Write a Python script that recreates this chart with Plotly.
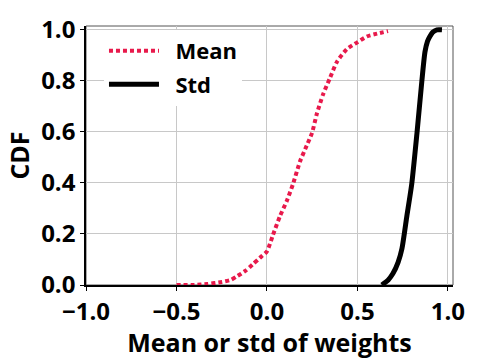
import plotly.graph_objects as go

# CDF of per-layer weight statistics
mean_x = [-0.50, -0.40, -0.33, -0.25, -0.20, -0.166, -0.12, -0.08, -0.04, 0.0, 0.033,
          0.072, 0.11, 0.144, 0.182, 0.22, 0.249, 0.276, 0.31, 0.348, 0.387, 0.442,
          0.497, 0.552, 0.608, 0.669]
mean_y = [0.0, 0.0, 0.004, 0.012, 0.02, 0.034, 0.055, 0.08, 0.106, 0.132, 0.196,
          0.27, 0.33, 0.396, 0.483, 0.547, 0.596, 0.672, 0.747, 0.811, 0.875, 0.925,
          0.95, 0.974, 0.985, 0.995]

std_x = [0.635, 0.67, 0.696, 0.725, 0.746, 0.773, 0.80, 0.829, 0.856, 0.873, 0.887,
         0.90, 0.915, 0.939, 0.967]
std_y = [0.0, 0.02, 0.045, 0.09, 0.143, 0.27, 0.396, 0.596, 0.80, 0.913, 0.955,
         0.974, 0.99, 1.0, 1.0]

font = "Open Sans"
pad = "\u00a0\u00a0"  # extra gap between legend line and label

fig = go.Figure()
fig.add_trace(go.Scatter(
    x=mean_x, y=mean_y, mode="lines", name=pad + "Mean", legendgroup="mean",
    line=dict(color="#E8194B", width=4, dash="4px,3px", shape="spline", smoothing=0.6),
))
fig.add_trace(go.Scatter(
    x=std_x, y=std_y, mode="lines", name=pad + "Std", legendgroup="std",
    line=dict(color="black", width=5, shape="spline", smoothing=0.6),
))

# grey frame on top/right like the matplotlib spines
fig.add_shape(type="rect", xref="paper", yref="paper", x0=0, x1=1, y0=0, y1=1,
              line=dict(color="#555555", width=1), layer="below")

fig.update_layout(
    width=478, height=359,
    margin=dict(l=86, r=25, t=16, b=74),
    plot_bgcolor="white", paper_bgcolor="white",
    font=dict(family=font, size=22, color="black", weight="bold"),
    legend=dict(x=0.049, y=0.985, xanchor="left", yanchor="top",
                bgcolor="white", borderwidth=0, itemwidth=50,
                font=dict(family=font, size=22, color="black", weight="bold"),
                tracegroupgap=2),
)
fig.update_xaxes(
    range=[-1.0, 1.028], tickvals=[-1.0, -0.5, 0.0, 0.5, 1.0],
    ticktext=["\u22121.0", "\u22120.5", "0.0", "0.5", "1.0"],
    showgrid=True, gridcolor="#c8c8c8", gridwidth=1, zeroline=False,
    showline=True, linecolor="black", linewidth=1.5,
    ticks="outside", ticklen=4, tickcolor="black",
    tickfont=dict(family=font, size=24, weight="bold"),
    title=dict(text="Mean or std of weights", font=dict(family=font, size=25, weight="bold"), standoff=0),
)
fig.update_yaxes(
    range=[0, 1.015], tickvals=[0.0, 0.2, 0.4, 0.6, 0.8, 1.0],
    tickformat=".1f",
    showgrid=True, gridcolor="#c8c8c8", gridwidth=1, zeroline=False,
    showline=True, linecolor="black", linewidth=1.5,
    ticks="outside", ticklen=4, tickcolor="black",
    tickfont=dict(family=font, size=24, weight="bold"),
    title=dict(text="CDF", font=dict(family=font, size=25, weight="bold"), standoff=4),
)

# the page body has a default 8px margin; drop it so the figure fills the window
fig.write_html("out.html", config={"displayModeBar": False},
               post_script="document.body.style.margin='0';")
